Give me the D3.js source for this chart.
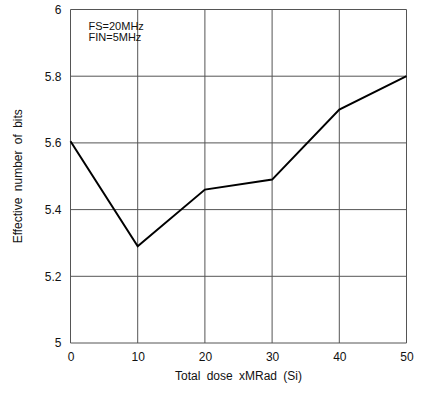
<!DOCTYPE html>
<html><head><meta charset="utf-8">
<script src="https://cdn.jsdelivr.net/npm/d3@7"></script>
<style>body{margin:0;background:#fff}svg{display:block}text{font-family:"Liberation Sans",Arial,sans-serif;fill:#111}</style>
</head><body>
<script>
const doses = [0, 10, 20, 30, 40, 50];
const enob = [5.605, 5.29, 5.46, 5.49, 5.70, 5.80];
const xTicks = [0, 10, 20, 30, 40, 50];
const yTicks = [5, 5.2, 5.4, 5.6, 5.8, 6];
const yTickLabels = ["5", "5.2", "5.4", "5.6", "5.8", "6"];
const notes = ["FS=20MHz", "FIN=5MHz"];

const W = 424, H = 393;
const m = {left: 70.5, right: 17.5, top: 9.5, bottom: 50};
const svg = d3.select("body").append("svg").attr("width", W).attr("height", H);
const x = d3.scaleLinear().domain([0, 50]).range([m.left, W - m.right]);
const y = d3.scaleLinear().domain([5, 6]).range([H - m.bottom, m.top]);

const g = svg.append("g");
// grid
g.selectAll(".vg").data(xTicks).join("line")
  .attr("x1", d => x(d)).attr("x2", d => x(d)).attr("y1", y(5)).attr("y2", y(6))
  .attr("stroke", "#555").attr("stroke-width", 1);
g.selectAll(".hg").data(yTicks).join("line")
  .attr("y1", d => y(d)).attr("y2", d => y(d)).attr("x1", x(0)).attr("x2", x(50))
  .attr("stroke", "#555").attr("stroke-width", 1);

// axes labels
const xa = svg.append("g").attr("transform", `translate(0,${y(5)})`)
  .call(d3.axisBottom(x).tickValues(xTicks).tickSize(0).tickPadding(9).tickFormat(d3.format("d")));
xa.select(".domain").remove();
xa.selectAll("text").attr("font-size", 12).attr("font-family", '"Liberation Sans",Arial,sans-serif').attr("fill", "#111");
const ya = svg.append("g").attr("transform", `translate(${x(0)},0)`)
  .call(d3.axisLeft(y).tickValues(yTicks).tickSize(0).tickPadding(9).tickFormat((d, i) => yTickLabels[i]));
ya.select(".domain").remove();
ya.selectAll("text").attr("font-size", 12).attr("font-family", '"Liberation Sans",Arial,sans-serif').attr("fill", "#111");

// data line
svg.append("path").datum(doses.map((d, i) => [d, enob[i]]))
  .attr("d", d3.line().x(d => x(d[0])).y(d => y(d[1])))
  .attr("fill", "none").attr("stroke", "#000").attr("stroke-width", 2).attr("stroke-linejoin", "miter");

// notes
svg.selectAll(".note").data(notes).join("text")
  .attr("x", x(0) + 18).attr("y", (d, i) => y(6) + 20 + i * 11)
  .attr("font-size", 11).text(d => d);

// titles
svg.append("text").attr("x", (x(0) + x(50)) / 2).attr("y", 380).attr("text-anchor", "middle")
  .attr("font-size", 12).attr("word-spacing", 3).text("Total dose xMRad (Si)");
svg.append("text").attr("transform", `translate(22,${(y(5) + y(6)) / 2}) rotate(-90)`)
  .attr("text-anchor", "middle").attr("font-size", 12).attr("word-spacing", 3).text("Effective number of bits");
</script>
</body></html>
